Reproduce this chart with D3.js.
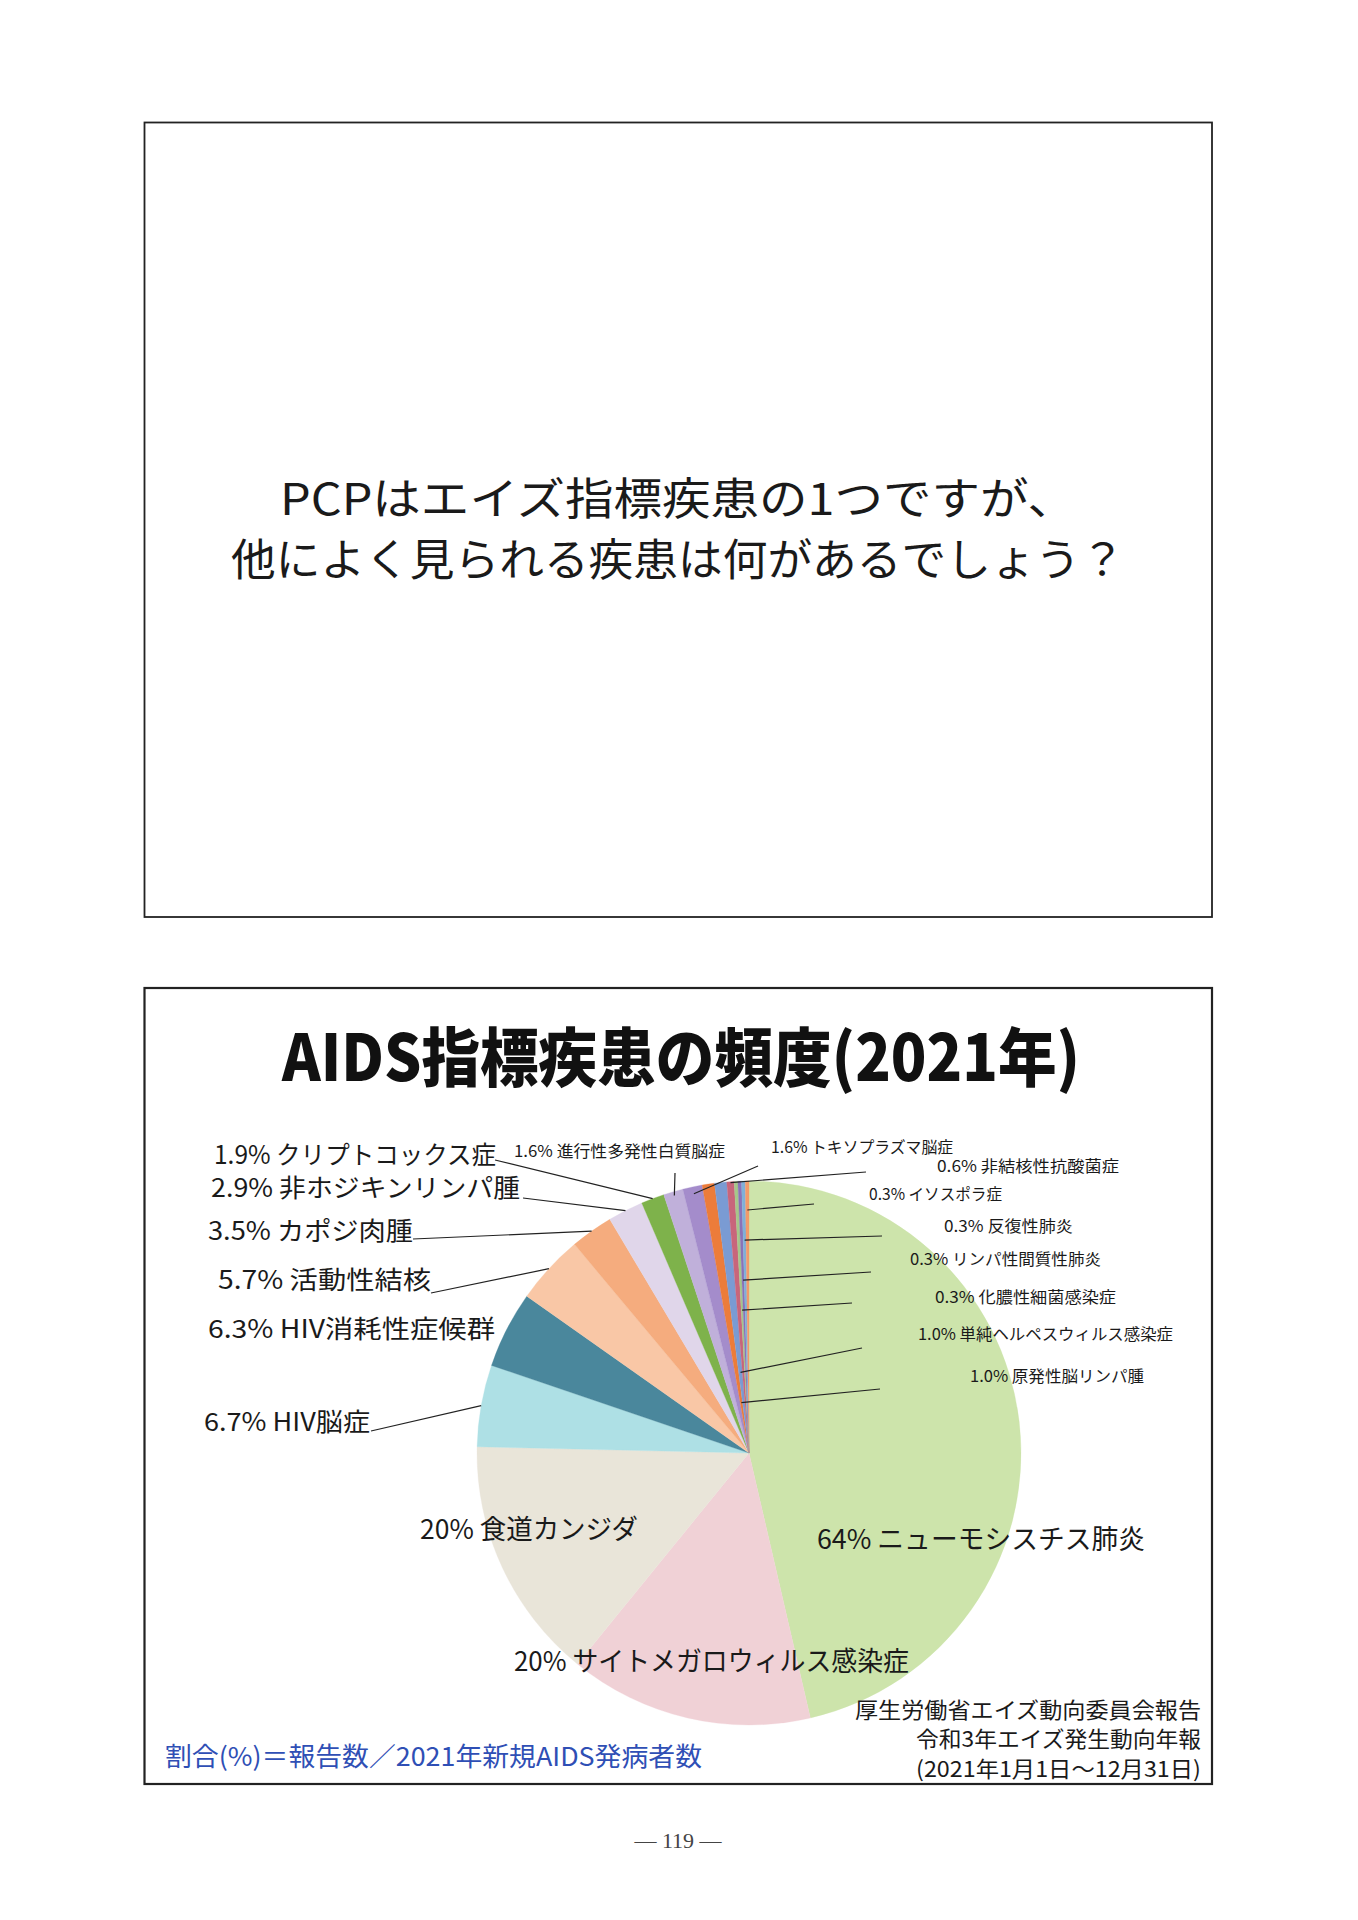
<!DOCTYPE html>
<html>
<head>
<meta charset="utf-8">
<script src="https://cdn.jsdelivr.net/npm/d3@7"></script>
<style>
  body { margin: 0; background: #fff; }
  svg { display: block; }
  text { font-family: "Noto Sans CJK JP", "Noto Sans", sans-serif; fill: #1a1a1a; }
</style>
</head>
<body>
<svg id="page" width="1358" height="1920"></svg>
<script>
// Data: AIDS indicator diseases 2021 (% of new AIDS cases)
const diseases = [
    "ニューモシスチス肺炎", "サイトメガロウィルス感染症", "食道カンジダ", "HIV脳症",
    "HIV消耗性症候群", "活動性結核", "カポジ肉腫", "非ホジキンリンパ腫",
    "クリプトコックス症", "進行性多発性白質脳症", "トキソプラズマ脳症", "原発性脳リンパ腫",
    "単純ヘルペスウィルス感染症", "非結核性抗酸菌症", "化膿性細菌感染症", "リンパ性間質性肺炎",
    "反復性肺炎", "イソスポラ症"
];
const percents = [64, 20, 20, 6.7, 6.3, 5.7, 3.5, 2.9, 1.9, 1.6, 1.6, 1.0, 1.0, 0.6, 0.3, 0.3, 0.3, 0.3];
const sliceColors = [
    "#cde4ab", "#f0d1d6", "#e9e5d9", "#aee0e5", "#4a879c", "#f9c7a6", "#f5ac7e", "#e0d6ea",
    "#7eb24b", "#c0b0da", "#a48ccb", "#ec7c3a", "#7a9bd3", "#c8657b", "#a6c78a", "#8a72b8",
    "#7fb0d8", "#f29a6a"
];

const question = ["PCPはエイズ指標疾患の1つですが、", "他によく見られる疾患は何があるでしょう？"];
const chartTitle = "AIDS指標疾患の頻度(2021年)";
const formula = "割合(%)＝報告数／2021年新規AIDS発病者数";
const source = ["厚生労働省エイズ動向委員会報告", "令和3年エイズ発生動向年報", "(2021年1月1日～12月31日)"];

// Label layout: left x, center y, fitted width, font size
const labelPos = [
    [817, 1537, 328, 27], [514, 1659, 395, 27], [420, 1527, 218, 27], [204, 1420, 166, 25],
    [208, 1327, 287, 25], [218, 1278, 213, 25], [208, 1229, 205, 25], [211, 1186, 309, 25],
    [214, 1153, 282, 25], [514, 1150, 211, 16], [771, 1146, 182, 16], [970, 1375, 174, 16],
    [918, 1333, 255, 16], [937, 1165, 182, 16], [935, 1296, 181, 16], [910, 1258, 191, 16],
    [944, 1225, 129, 16], [869, 1193, 133, 16]
];
// Leader lines: slice index, radius on slice bisector, label end point
const leaders = [
    [3, 272, 371, 1431], [5, 272, 431, 1293], [6, 272, 413, 1239], [7, 272, 523, 1198],
    [8, 272, 495, 1160], [9, 268, 675, 1173], [10, 265, 758, 1166], [11, 51, 880, 1389],
    [12, 81, 862, 1348], [13, 271, 866, 1172], [14, 143, 852, 1303], [15, 173, 871, 1272],
    [16, 213, 882, 1236], [17, 243, 814, 1204]
];

const svg = d3.select("#page");
svg.append("rect").attr("width", 1358).attr("height", 1920).attr("fill", "#fff");

// Upper slide
svg.append("rect")
    .attr("x", 144.5).attr("y", 122.5).attr("width", 1067.5).attr("height", 794.5)
    .attr("fill", "none").attr("stroke", "#222").attr("stroke-width", 1.8);
const qWidths = [796, 894];
question.forEach((q, i) => {
    svg.append("text")
        .attr("x", 678).attr("y", 496 + i * 61)
        .attr("text-anchor", "middle").attr("dominant-baseline", "central")
        .attr("textLength", qWidths[i]).attr("lengthAdjust", "spacingAndGlyphs")
        .style("font-size", "44px")
        .text(q);
});

// Lower slide
svg.append("rect")
    .attr("x", 144.5).attr("y", 988).attr("width", 1067.5).attr("height", 796)
    .attr("fill", "none").attr("stroke", "#222").attr("stroke-width", 2.2);

svg.append("text")
    .attr("x", 681).attr("y", 1053)
    .attr("text-anchor", "middle").attr("dominant-baseline", "central")
    .attr("textLength", 798).attr("lengthAdjust", "spacingAndGlyphs")
    .style("font-size", "64px").style("font-weight", "900")
    .style("fill", "#111")
    .text(chartTitle);

// Pie
const cx = 749, cy = 1453, radius = 272;
const pie = d3.pie().sort(null).value(d => d);
const arcs = pie(percents);
const arc = d3.arc().innerRadius(0).outerRadius(radius);
const g = svg.append("g").attr("transform", `translate(${cx},${cy})`);
g.selectAll("path")
    .data(arcs)
    .enter()
    .append("path")
    .attr("d", arc)
    .attr("fill", (d, i) => sliceColors[i])
    .attr("stroke", (d, i) => sliceColors[i])
    .attr("stroke-width", 0.3);

// Leader lines
const mid = d => (d.startAngle + d.endAngle) / 2;
leaders.forEach(([i, r, lx, ly]) => {
    const a = mid(arcs[i]);
    svg.append("line")
        .attr("x1", cx + r * Math.sin(a)).attr("y1", cy - r * Math.cos(a))
        .attr("x2", lx).attr("y2", ly)
        .attr("stroke", "#222").attr("stroke-width", 1.2);
});

// Slice labels
const fmt = v => (v >= 10 ? String(v) : v.toFixed(1));
labelPos.forEach(([x, y, w, fs], i) => {
    svg.append("text")
        .attr("x", x).attr("y", y)
        .attr("dominant-baseline", "central")
        .attr("textLength", w).attr("lengthAdjust", "spacingAndGlyphs")
        .style("font-size", fs + "px")
        .text(`${fmt(percents[i])}% ${diseases[i]}`);
});

// Footnotes
svg.append("text")
    .attr("x", 165).attr("y", 1754)
    .attr("dominant-baseline", "central")
    .attr("textLength", 537).attr("lengthAdjust", "spacingAndGlyphs")
    .style("font-size", "26px").style("fill", "#2f4fb5")
    .text(formula);
const srcY = [1708, 1737, 1767];
const srcW = [346, 285, 285];
source.forEach((s, i) => {
    svg.append("text")
        .attr("x", 1201).attr("y", srcY[i])
        .attr("text-anchor", "end").attr("dominant-baseline", "central")
        .attr("textLength", srcW[i]).attr("lengthAdjust", "spacingAndGlyphs")
        .style("font-size", "22px")
        .text(s);
});

// Page number
svg.append("text")
    .attr("x", 678).attr("y", 1840)
    .attr("text-anchor", "middle").attr("dominant-baseline", "central")
    .style("font-family", "'Liberation Serif', 'DejaVu Serif', serif")
    .style("font-size", "22px").style("fill", "#444")
    .text("— 119 —");
</script>
</body>
</html>
